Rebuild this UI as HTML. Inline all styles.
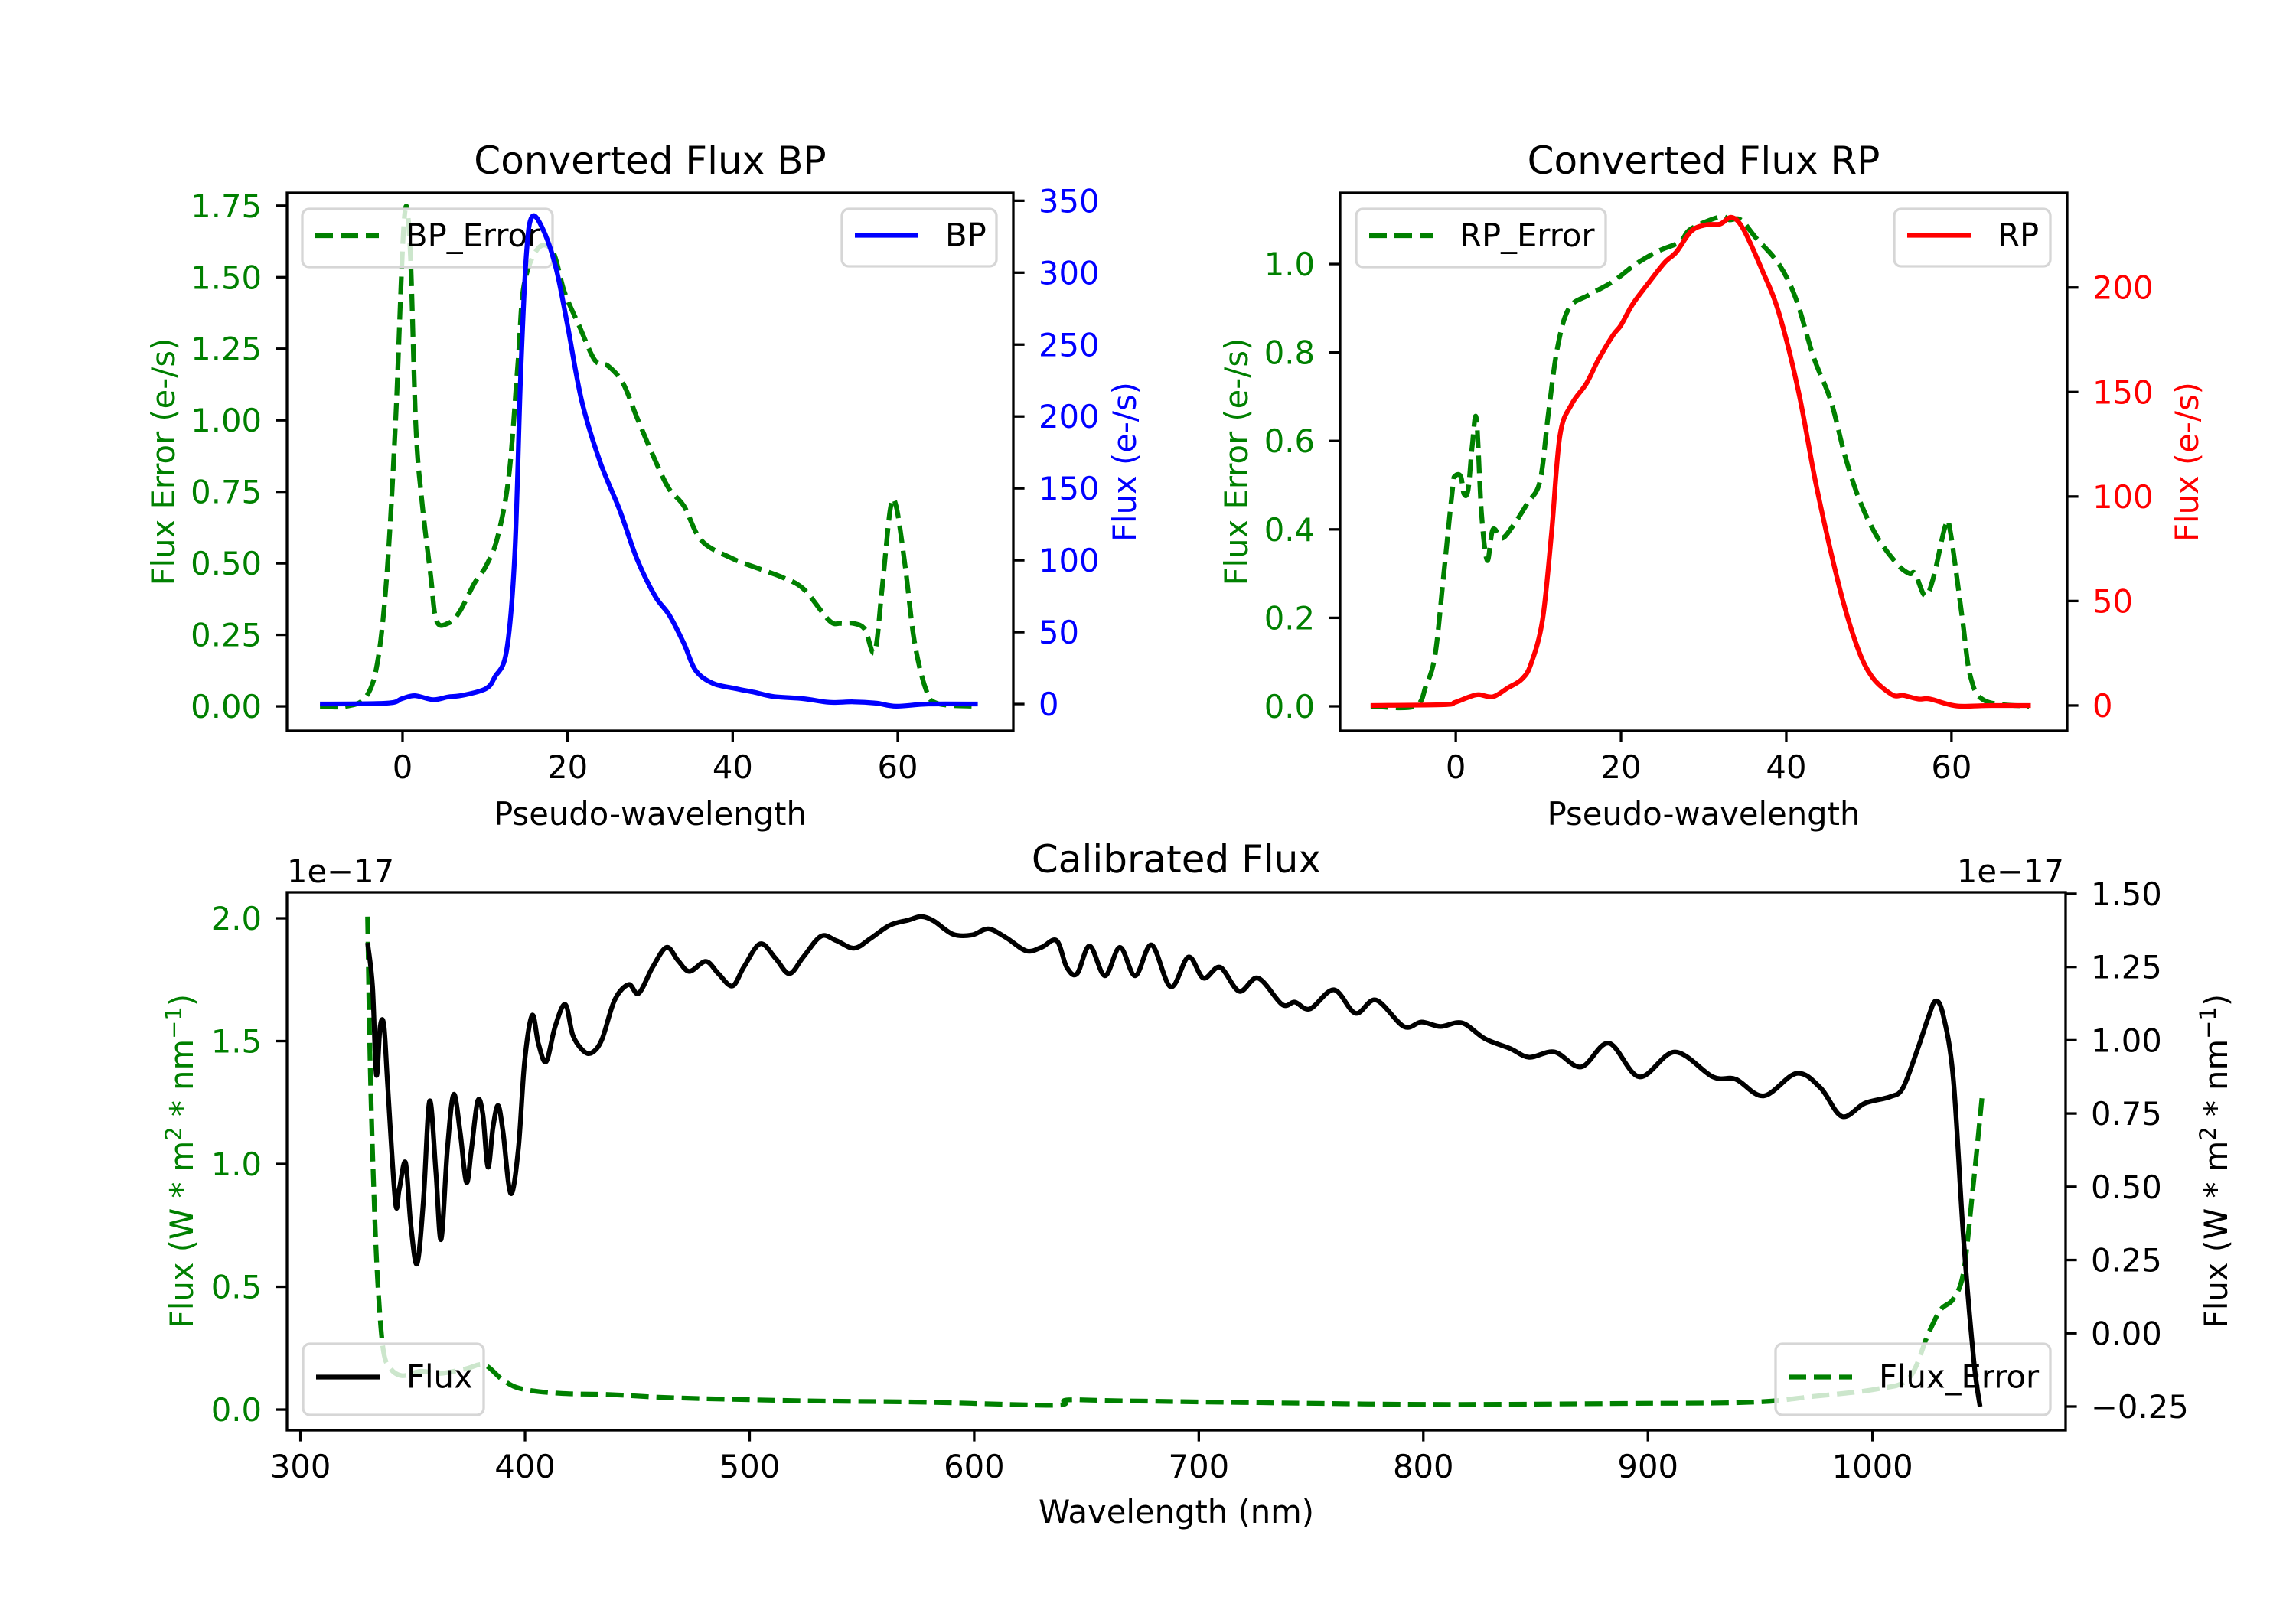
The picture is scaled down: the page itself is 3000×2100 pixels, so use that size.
<!DOCTYPE html>
<html><head><meta charset="utf-8"><style>
html,body{margin:0;padding:0;background:#fff}
svg{display:block}
text{font-family:"DejaVu Sans","Liberation Sans",sans-serif}
</style></head><body>
<svg id="fig" width="3000" height="2100" viewBox="0 0 3000 2100" xmlns="http://www.w3.org/2000/svg"></svg>
<script>
// ---------- BP panel data ----------
const bpErrX = [-10,-6.8,-4.4,-3,-1.9,-0.85,0.2,0.9,1.6,2.3,3.4,4.1,5.5,6.9,8.7,10.1,11.5,12.9,14,14.7,16.4,18.2,19.6,21.4,23.3,24.9,26.7,28.4,30.6,32.3,34.1,36.2,39.7,43.3,46.1,48.6,51.7,53.1,54.6,56,57.2,58.1,59.1,59.8,60.9,62,63.4,64.8,69.4];
const bpErrY = [0,0,0.034,0.16,0.46,0.99,1.70,1.61,0.99,0.73,0.46,0.30,0.29,0.33,0.43,0.49,0.59,0.81,1.21,1.47,1.60,1.59,1.45,1.33,1.21,1.19,1.13,1.01,0.86,0.76,0.70,0.58,0.52,0.48,0.45,0.41,0.30,0.29,0.29,0.27,0.19,0.41,0.69,0.70,0.49,0.23,0.06,0.01,0];
const bpFluxX = [-10,-1.9,-0.1,1.5,3.7,5.5,7.3,10.1,11.2,12.6,13.6,14.3,15,15.7,17.1,18.6,20,21.7,23.9,26.3,28.4,30.6,32.3,34.1,35.5,37.6,40.4,42.6,45,48.6,51.7,54.6,57.4,59.8,63.7,69.7];
const bpFluxY = [0,0.6,3.7,5.8,3,4.9,6.1,10.7,19,37,104,227,312,339,329,303,263,211,169,135,101,75,62,42,23.5,14.4,10.7,8.2,5.2,3.7,1.2,1.5,0.6,-1.5,0,0];
// ---------- RP panel data ----------
const rpErrX = [-10.3,-5,-3.6,-2.5,-1.5,-0.4,-0.1,0.6,1,1.5,2,2.5,3.1,3.8,4.5,5.6,7,8.7,10.2,11.2,12.3,13.7,16.1,19,21.8,24.6,27.1,28.5,32,33.1,34.5,36.3,39.1,41.2,43.3,45.4,47.2,49,51.1,53.5,54.9,55.6,56.8,57.8,59.3,59.9,61.3,62.3,64.1,69.4];
const rpErrY = [0,0,0.047,0.116,0.29,0.49,0.52,0.52,0.48,0.49,0.59,0.65,0.44,0.33,0.40,0.38,0.41,0.46,0.51,0.66,0.81,0.90,0.93,0.96,1.00,1.03,1.05,1.08,1.107,1.10,1.10,1.06,1.00,0.92,0.79,0.69,0.56,0.46,0.38,0.32,0.30,0.30,0.25,0.29,0.41,0.39,0.20,0.067,0.012,0];
const rpFluxX = [-10.3,-1.5,-0.1,1.7,2.8,4.5,6.3,8,9.1,10.5,11.6,12.6,14,15.8,17.2,19,20,21.4,23.5,25.3,26.7,28.5,30.3,32,33.4,34.8,37,39.1,41.5,43.7,46.5,48.6,50.4,52.8,54.2,56,57.4,60.6,64.8,69.6];
const rpFluxY = [0,0.4,1.5,4.2,5.2,4.2,8.4,12.6,19.9,41,83,129,144,154,165,177,182,192,203,212,217,227,230,230.4,233.6,228,209,188,150,104,55.6,28,13.6,5.2,4.8,3.1,3.1,-0.2,0,0];
// ---------- Calibrated panel data (units of 1e-17) ----------
const calFluxX = [329.9,332.1,333.8,335.5,337.2,338.9,342.3,344,346.8,349.1,351.9,354.7,357.5,360.3,362.6,365.4,368.2,371.1,373.9,376.1,378.9,381.2,383.5,385.7,388,390.2,393.6,397,399.8,403.2,406,409.4,413.4,417.9,421.3,425.8,429.7,434.2,439.9,446.1,450.6,456.8,463,468.1,473.2,480.5,486.1,492.3,497.4,504.7,511.5,517.7,523.9,531.8,538.6,546.5,553.8,562.3,570.7,576.4,582,590.5,598.9,606.3,614.2,623.2,630,636.7,641.2,645.8,651.4,658.2,664.9,671.7,679,687.5,695.4,702.1,709.5,718,726.4,737.1,742.8,749.5,760.2,769.8,778.9,791.3,799.2,807.6,817.3,827.4,838.6,847.1,858.4,870.3,882.6,896.2,912,928.9,939.1,951.5,966.2,976.9,986.4,996.6,1007.8,1013.5,1020.2,1024.8,1028.1,1031.5,1036,1040.5,1045.1,1047.9];
const calFluxY = [1.332,1.182,0.882,1.047,1.047,0.837,0.447,0.492,0.582,0.372,0.237,0.447,0.792,0.552,0.32,0.627,0.815,0.687,0.515,0.627,0.792,0.747,0.567,0.702,0.777,0.687,0.477,0.627,0.927,1.085,0.987,0.927,1.047,1.122,1.017,0.965,0.957,1.002,1.137,1.19,1.16,1.249,1.317,1.272,1.235,1.269,1.227,1.185,1.249,1.329,1.28,1.227,1.284,1.355,1.34,1.314,1.347,1.392,1.41,1.422,1.407,1.362,1.359,1.38,1.35,1.305,1.317,1.34,1.249,1.227,1.322,1.22,1.317,1.22,1.325,1.182,1.284,1.212,1.249,1.167,1.212,1.122,1.13,1.107,1.172,1.092,1.137,1.047,1.062,1.047,1.059,1.005,0.972,0.942,0.96,0.909,0.99,0.875,0.96,0.875,0.867,0.81,0.887,0.837,0.74,0.785,0.807,0.837,0.972,1.077,1.134,1.085,0.867,0.327,-0.093,-0.25];
const calErrX = [329.9,331,332.7,334.4,336.7,339.5,345.1,353.6,362,373.3,381.8,390.2,398.7,415.6,438.2,466.4,522.8,579.2,635.6,641.2,663.8,720.2,804.8,889.4,945.8,974,1002.2,1016.3,1024.8,1030.3,1036,1040.5,1044.5,1049];
const calErrY = [2.007,1.417,0.88,0.522,0.254,0.174,0.138,0.156,0.147,0.165,0.182,0.12,0.084,0.066,0.061,0.048,0.036,0.03,0.018,0.039,0.036,0.029,0.021,0.025,0.03,0.054,0.084,0.129,0.308,0.406,0.451,0.558,0.88,1.292];
// ---------- tick labels ----------
const bpXTicks = [0,20,40,60];
const bpLeftTicks = [0,0.25,0.5,0.75,1.0,1.25,1.5,1.75];
const bpLeftLabels = ["0.00","0.25","0.50","0.75","1.00","1.25","1.50","1.75"];
const bpRightTicks = [0,50,100,150,200,250,300,350];
const rpLeftTicks = [0,0.2,0.4,0.6,0.8,1.0];
const rpLeftLabels = ["0.0","0.2","0.4","0.6","0.8","1.0"];
const rpRightTicks = [0,50,100,150,200];
const calXTicks = [300,400,500,600,700,800,900,1000];
const calLeftTicks = [0,0.5,1.0,1.5,2.0];
const calLeftLabels = ["0.0","0.5","1.0","1.5","2.0"];
const calRightTicks = [-0.25,0,0.25,0.5,0.75,1.0,1.25,1.5];
const calRightLabels = ["\u22120.25","0.00","0.25","0.50","0.75","1.00","1.25","1.50"];

const NS="http://www.w3.org/2000/svg";
const svg=document.getElementById('fig');
const FS=41.7, LW=6.25;
function mk(tag,attrs,parent){const e=document.createElementNS(NS,tag);for(const k in attrs)e.setAttribute(k,attrs[k]);(parent||svg).appendChild(e);return e;}
function scale(d0,d1,p0,p1){return v=>p0+(v-d0)/(d1-d0)*(p1-p0);}
let clipN=0;
function clipFor(L,R,T,B){const id='c'+(clipN++);const cp=mk('clipPath',{id:id});mk('rect',{x:L,y:T,width:R-L,height:B-T},cp);return id;}
function line(xs,ys,sx,sy,color,dash,clip,name){
  const P=xs.map((x,i)=>[sx(x),sy(ys[i])]);
  let d='M'+P[0][0].toFixed(1)+','+P[0][1].toFixed(1);
  for(let i=0;i<P.length-1;i++){
    const p0=P[Math.max(0,i-1)],p1=P[i],p2=P[i+1],p3=P[Math.min(P.length-1,i+2)];
    const c1x=p1[0]+(p2[0]-p0[0])/6,c1y=p1[1]+(p2[1]-p0[1])/6;
    const c2x=p2[0]-(p3[0]-p1[0])/6,c2y=p2[1]-(p3[1]-p1[1])/6;
    d+='C'+c1x.toFixed(1)+','+c1y.toFixed(1)+' '+c2x.toFixed(1)+','+c2y.toFixed(1)+' '+p2[0].toFixed(1)+','+p2[1].toFixed(1);
  }
  const p=mk('path',{d:d,fill:'none',stroke:color,'stroke-width':LW,'stroke-linejoin':'round','clip-path':'url(#'+clip+')'});
  if(dash)p.setAttribute('stroke-dasharray','23 10');
  
  
  return p;
}
function txt(x,y,s,opt){const t=mk('text',{x:x,y:y,'font-size':opt.fs||FS,fill:opt.fill||'#000','text-anchor':opt.anchor||'start'});if(opt.rot)t.setAttribute('transform','rotate(-90 '+x+' '+y+')');t.textContent=s;return t;}
function xticks(ticks,labels,sx,B,name){for(let i=0;i<ticks.length;i++){const x=sx(ticks[i]);const l=mk('line',{x1:x,x2:x,y1:B,y2:B+14.6,stroke:'#000','stroke-width':3.3});txt(x,B+62,labels[i],{anchor:'middle',name:name+'-label'});}}
function yticks(ticks,labels,sy,X,side,color,name){for(let i=0;i<ticks.length;i++){const y=sy(ticks[i]);const dx=side<0?-14.6:14.6;const l=mk('line',{x1:X,x2:X+dx,y1:y,y2:y,stroke:'#000','stroke-width':3.3});txt(side<0?X-33:X+33,y+15,labels[i],{anchor:side<0?'end':'start',fill:color,name:name+'-label'});}}
function frame(L,R,T,B,name){const r=mk('rect',{x:L,y:T,width:R-L,height:B-T,fill:'none',stroke:'#000','stroke-width':3.3});}
function legend(x0,x1,y0,y1,label,color,dash,name){
  const g=mk('g',{});
  mk('rect',{x:x0,y:y0,width:x1-x0,height:y1-y0,rx:9,fill:'rgba(255,255,255,0.8)',stroke:'#d6d6d6','stroke-width':3.3},g);
  const ly=(y0+y1)/2-3;
  const l=mk('line',{x1:x0+17,x2:x0+100,y1:ly,y2:ly,stroke:color,'stroke-width':LW},g);
  if(dash)l.setAttribute('stroke-dasharray','23 10');
  const t=mk('text',{x:x0+135,y:ly+14,'font-size':FS,fill:'#000'},g);t.textContent=label;
}
function ident(v){return String(v);}

// ===== BP panel =====
(function(){
  const L=375,R=1324,T=252,B=955;
  const sx=scale(-14,74,L,R), syL=scale(-0.0855,1.795,B,T), syR=scale(-18.6,355.5,B,T);
  const c=clipFor(L,R,T,B);
  line(bpErrX,bpErrY,sx,syL,'#008000',true,c,'bp-error-line');
  legend(395,722,273,349,'BP_Error','#008000',true,'bp-error-legend');
  line(bpFluxX,bpFluxY,sx,syR,'#0000ff',false,c,'bp-flux-line');
  legend(1100,1302,273,348,'BP','#0000ff',false,'bp-legend');
  frame(L,R,T,B,'bp-axes-frame');
  xticks(bpXTicks,bpXTicks.map(ident),sx,B,'bp-x-tick');
  yticks(bpLeftTicks,bpLeftLabels,syL,L,-1,'#008000','bp-left-y-tick');
  yticks(bpRightTicks,bpRightTicks.map(ident),syR,R,1,'#0000ff','bp-right-y-tick');
  txt((L+R)/2,227,'Converted Flux BP',{anchor:'middle',fs:50,name:'bp-title'});
  txt((L+R)/2,1078,'Pseudo-wavelength',{anchor:'middle',name:'bp-x-axis-title'});
  txt(228,(T+B)/2,'Flux Error (e-/s)',{anchor:'middle',fill:'#008000',rot:true,name:'bp-left-y-axis-title'});
  txt(1484,(T+B)/2,'Flux (e-/s)',{anchor:'middle',fill:'#0000ff',rot:true,name:'bp-right-y-axis-title'});
})();
// ===== RP panel =====
(function(){
  const L=1751,R=2701,T=252,B=955;
  const sx=scale(-14,74,L,R), syL=scale(-0.0554,1.161,B,T), syR=scale(-12.1,245.3,B,T);
  const c=clipFor(L,R,T,B);
  line(rpErrX,rpErrY,sx,syL,'#008000',true,c,'rp-error-line');
  legend(1772,2098,273,349,'RP_Error','#008000',true,'rp-error-legend');
  line(rpFluxX,rpFluxY,sx,syR,'#ff0000',false,c,'rp-flux-line');
  legend(2475,2679,273,348,'RP','#ff0000',false,'rp-legend');
  frame(L,R,T,B,'rp-axes-frame');
  xticks(bpXTicks,bpXTicks.map(ident),sx,B,'rp-x-tick');
  yticks(rpLeftTicks,rpLeftLabels,syL,L,-1,'#008000','rp-left-y-tick');
  yticks(rpRightTicks,rpRightTicks.map(ident),syR,R,1,'#ff0000','rp-right-y-tick');
  txt((L+R)/2,227,'Converted Flux RP',{anchor:'middle',fs:50,name:'rp-title'});
  txt((L+R)/2,1078,'Pseudo-wavelength',{anchor:'middle',name:'rp-x-axis-title'});
  txt(1630,(T+B)/2,'Flux Error (e-/s)',{anchor:'middle',fill:'#008000',rot:true,name:'rp-left-y-axis-title'});
  txt(2872,(T+B)/2,'Flux (e-/s)',{anchor:'middle',fill:'#ff0000',rot:true,name:'rp-right-y-axis-title'});
})();
// ===== Calibrated panel =====
(function(){
  const L=375,R=2699,T=1166,B=1869;
  const sx=scale(294,1086,L,R), syL=scale(-0.084,2.106,B,T), syR=scale(-0.331,1.505,B,T);
  const c=clipFor(L,R,T,B);
  line(calErrX,calErrY,sx,syL,'#008000',true,c,'cal-error-line');
  legend(2320,2679,1756,1849,'Flux_Error','#008000',true,'cal-error-legend');
  line(calFluxX,calFluxY,sx,syR,'#000000',false,c,'cal-flux-line');
  legend(396,632,1756,1849,'Flux','#000000',false,'cal-flux-legend');
  frame(L,R,T,B,'cal-axes-frame');
  xticks(calXTicks,calXTicks.map(ident),sx,B,'cal-x-tick');
  yticks(calLeftTicks,calLeftLabels,syL,L,-1,'#008000','cal-left-y-tick');
  yticks(calRightTicks,calRightLabels,syR,R,1,'#000000','cal-right-y-tick');
  txt((L+R)/2,1140,'Calibrated Flux',{anchor:'middle',fs:50,name:'cal-title'});
  txt(L,1153,'1e\u221217',{name:'cal-left-offset-text'});
  txt(R-2,1153,'1e\u221217',{anchor:'end',name:'cal-right-offset-text'});
  txt((L+R)/2,1990,'Wavelength (nm)',{anchor:'middle',name:'cal-x-axis-title'});
  function unitLabel(x,color,name){
    const y=(T+B)/2;
    const t=mk('text',{x:x,y:y,'font-size':FS,fill:color,'text-anchor':'middle',transform:'rotate(-90 '+x+' '+y+')'});
    
    
    const parts=[['Flux (W * m',0],['2',1],[' * nm',0],['\u22121',1],[')',0]];
    parts.forEach(p=>{const s=mk('tspan',{},t);if(p[1]){s.setAttribute('font-size',29);s.setAttribute('dy',-15);}else if(s.previousSibling&&t.childNodes.length>1&&t.childNodes[t.childNodes.length-2].getAttribute('dy')){s.setAttribute('dy',15);}s.textContent=p[0];});
  }
  unitLabel(252,'#008000','cal-left-y-axis-title');
  unitLabel(2910,'#000000','cal-right-y-axis-title');
})();
</script>
</body></html>
